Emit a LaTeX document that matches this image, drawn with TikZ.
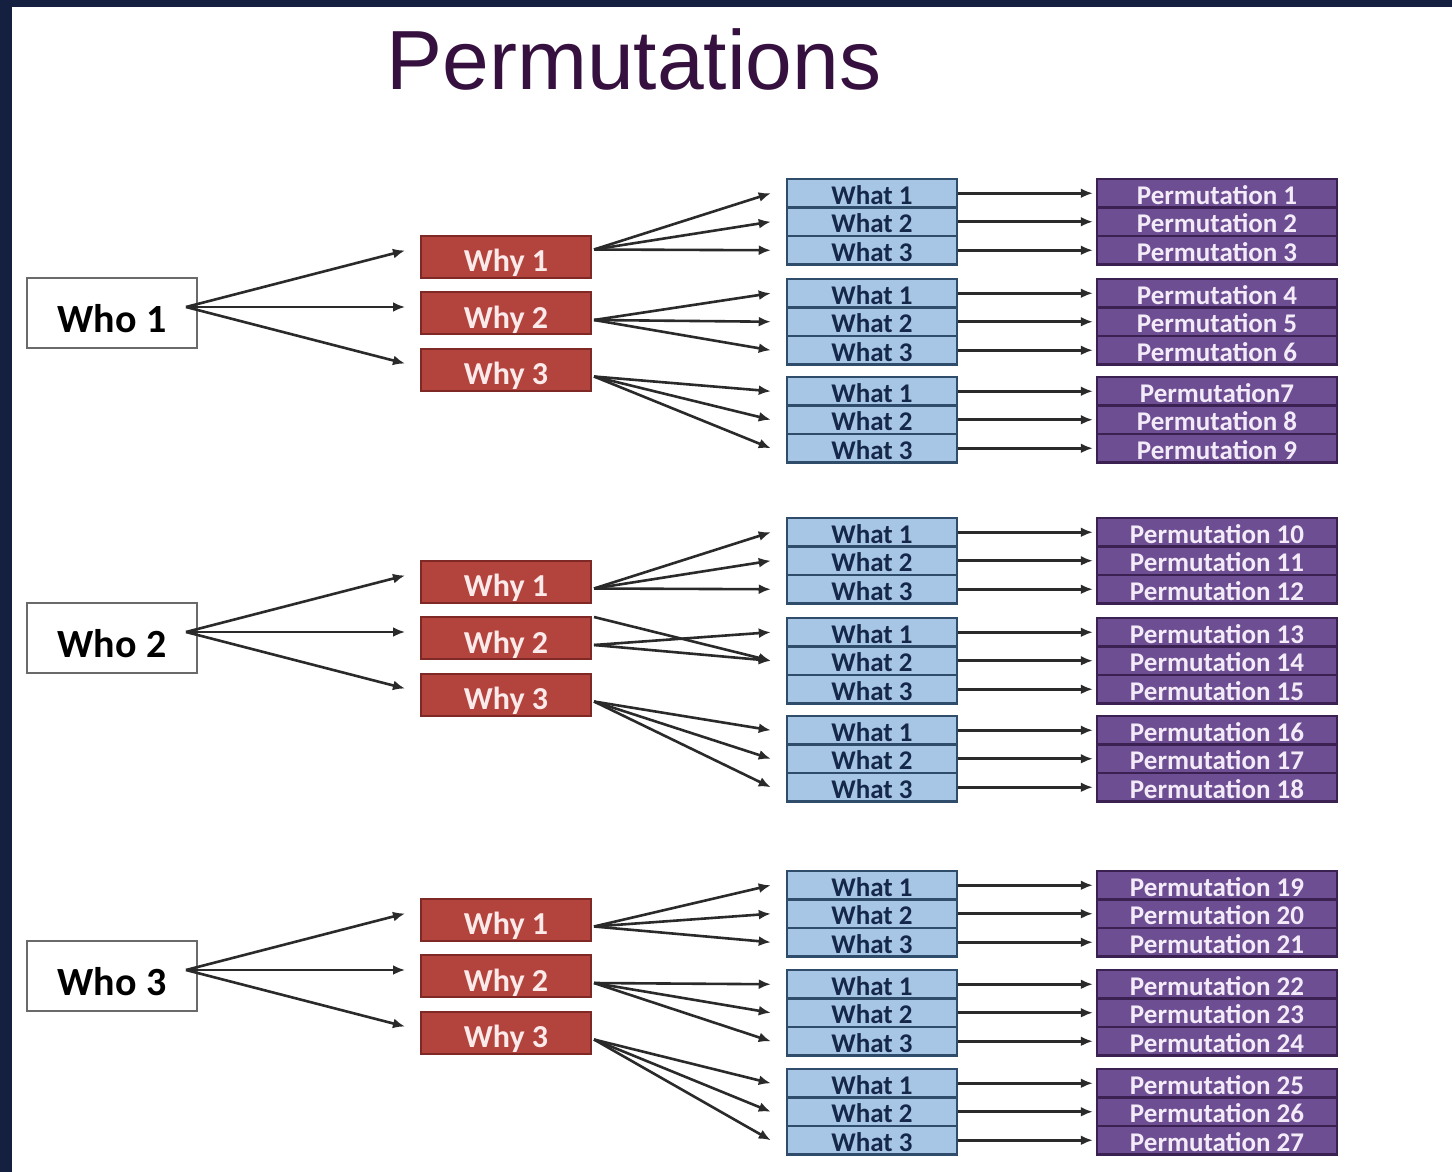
\documentclass[tikz,border=0pt]{standalone}
\usepackage{fontspec}
\setmainfont{Carlito}
\newfontfamily\titlefont{Liberation Sans}
\usetikzlibrary{arrows.meta}

\definecolor{frame}{HTML}{151F3F}
\definecolor{titlecol}{HTML}{36103F}
\definecolor{whoedge}{HTML}{6A6A6A}
\definecolor{whyfill}{HTML}{B3433D}
\definecolor{whyedge}{HTML}{7E2925}
\definecolor{whytext}{HTML}{FBEAEA}
\definecolor{whatfill}{HTML}{A7C6E5}
\definecolor{whatedge}{HTML}{2F4D6B}
\definecolor{whattext}{HTML}{15284A}
\definecolor{permfill}{HTML}{6E4E92}
\definecolor{permedge}{HTML}{3B2152}
\definecolor{permtext}{HTML}{F3ECF8}
\definecolor{linkcol}{HTML}{2A2A2A}

\begin{document}
\begin{tikzpicture}[x=1pt,y=-1pt,
  whobox/.style={draw=whoedge, line width=2pt, fill=white, minimum width=170pt,
    minimum height=70pt, inner sep=0pt, text height=38pt, text depth=0pt,
    font=\bfseries\fontsize{40}{40}\selectfont, text=black},
  whybox/.style={draw=whyedge, line width=2pt, fill=whyfill, minimum width=170pt,
    minimum height=42pt, inner sep=0pt, text height=30pt, text depth=0pt,
    font=\bfseries\fontsize{32}{32}\selectfont, text=whytext},
  whatbox/.style={draw=whatedge, line width=2.5pt, fill=whatfill, minimum width=170pt,
    minimum height=28.5pt, inner sep=0pt, text height=22pt, text depth=0pt,
    font=\bfseries\fontsize{27}{27}\selectfont, text=whattext},
  permbox/.style={draw=permedge, line width=2.5pt, fill=permfill, minimum width=240pt,
    minimum height=28.5pt, inner sep=0pt, text height=22pt, text depth=0pt,
    font=\bfseries\fontsize{27}{27}\selectfont, text=permtext},
  link/.style={draw=linkcol, line width=2.6pt, -{Latex[length=12pt,width=10pt]}}
]
\useasboundingbox (0,0) rectangle (1452,1172);
\fill[white] (0,0) rectangle (1452,1172);
\fill[frame] (0,0) rectangle (1452,7);
\fill[frame] (0,0) rectangle (12,1172);

\node[anchor=base, font=\titlefont\fontsize{84}{84}\selectfont, text=titlecol]
  (title) at (634,90) {Permutations};

\foreach \sn/\wy/\ta/\tb/\tc in {1/313/179/279/377, 2/638/518/618/716, 3/976/871/970/1069}{
  % who box and its three why branches
  \node[whobox] (who\sn) at (112,\wy) {Who \sn};
  \coordinate (wo\sn) at ([xshift=-12pt,yshift=6pt]who\sn.east);
  \foreach \kk/\dy in {1/-56.5,2/0,3/56.5}{
    \node[whybox] (why\sn\kk) at (506,{\wy+\dy}) {Why \kk};
    \draw[link] (wo\sn) -- ([xshift=-15pt,yshift=6pt]why\sn\kk.west);
  }
  % what groups and permutation rows
  \foreach \gg/\gt in {1/\ta,2/\tb,3/\tc}{
    \foreach \rr in {1,2,3}{
      \pgfmathtruncatemacro\pn{(\sn-1)*9+(\gg-1)*3+\rr}
      \node[whatbox] (what\sn\gg\rr) at (872,{\gt+14.25+28.5*(\rr-1)}) {What \rr};
      \node[permbox] (perm\sn\gg\rr) at (1217,{\gt+14.25+28.5*(\rr-1)})
        {\ifnum\pn=7 Permutation7\else Permutation \pn\fi};
      \draw[link, shorten >=3pt] (what\sn\gg\rr.east) -- (perm\sn\gg\rr.west);
    }
  }
  % why to what links
  \foreach \kk in {1,2,3}{
    \foreach \rr in {1,2,3}{
      \pgfmathtruncatemacro\noarr{(\sn==2 && \kk==2 && \rr==3) ? 1 : 0}
      \pgfmathsetmacro\oy{(\sn==1 && \kk==1) ? 7 : -7}
      \ifnum\noarr=0
        \draw[link] ([xshift=2pt,yshift=\oy pt]why\sn\kk.east)
          -- ([xshift=-15pt]what\sn\kk\rr.west);
      \fi
    }
  }
}
% extra crossing link from the second why of the second block
\draw[link] ([xshift=2pt,yshift=-1pt]why22.north east) -- ([xshift=-15pt]what222.west);
\end{tikzpicture}
\end{document}
